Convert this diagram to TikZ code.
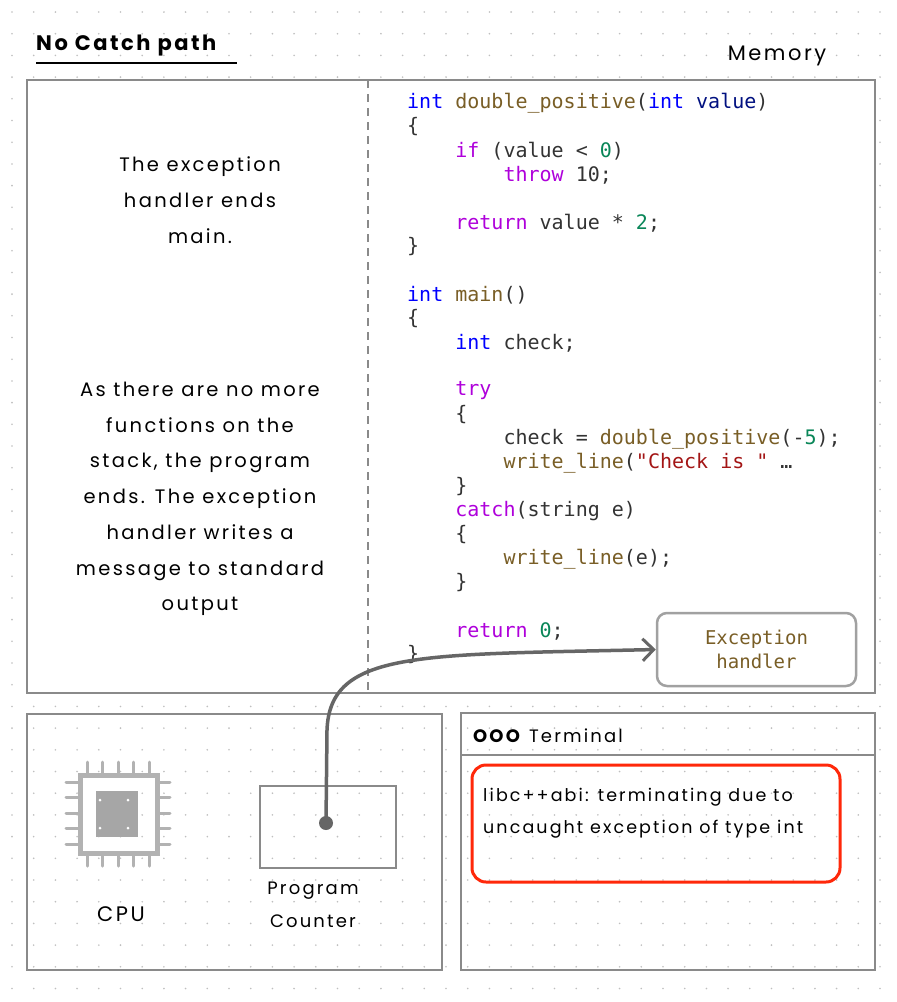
\documentclass[tikz,border=0pt]{standalone}
\usepackage{fontspec}
\setmainfont{Poppins}[LetterSpace=12]
\newfontfamily\codefont{DejaVu Sans Mono}
\usetikzlibrary{arrows.meta}
\definecolor{kwb}{HTML}{0000FF}
\definecolor{fnb}{HTML}{795E26}
\definecolor{ctl}{HTML}{AF00DB}
\definecolor{num}{HTML}{098658}
\definecolor{str}{HTML}{A31515}
\definecolor{idn}{HTML}{001080}
\definecolor{pln}{HTML}{333333}
\definecolor{frame}{HTML}{8A8A8A}
\tikzset{
  panel/.style={draw=frame,line width=2pt},
  code/.style={anchor=west,inner sep=0pt,font=\codefont\fontsize{20}{24}\selectfont,text=pln},
  label/.style={align=center,inner sep=0pt,font=\fontsize{19.5}{35.7}\selectfont},
}
\newcommand{\K}[1]{\textcolor{kwb}{#1}}
\newcommand{\F}[1]{\textcolor{fnb}{#1}}
\newcommand{\C}[1]{\textcolor{ctl}{#1}}
\newcommand{\N}[1]{\textcolor{num}{#1}}
\newcommand{\Sx}[1]{\textcolor{str}{#1}}
\newcommand{\I}[1]{\textcolor{idn}{#1}}
\begin{document}
\begin{tikzpicture}[x=1pt,y=-1pt]
\useasboundingbox (0,0) rectangle (897,1002);
\fill[white] (0,0) rectangle (897,1002);
\foreach \i in {0,...,40}{\foreach \j in {0,...,45}{
  \fill[black!25] (12+21.7*\i,12+21.7*\j) circle (0.9);}}
% title
\node[anchor=west,inner sep=0pt,font=\bfseries\fontsize{21}{24}\selectfont] (title) at (36,46) {No Catch path};
\draw[line width=1.5pt] (36,63) -- (237,63);
\node[inner sep=0pt,font=\fontsize{21}{24}\selectfont] (mem) at (777,56) {Memory};
% memory panel
\draw[panel,fill=white] (27,80) rectangle (875,693);
\draw[frame,line width=1.6pt,dash pattern=on 8pt off 6pt] (368,80) -- (368,693);
\node[label] (t1) at (200,200) {The exception\\handler ends\\main.};
\node[label] (t2) at (200,499) {As there are no more\\functions on the\\stack, the program\\ends. The exception\\handler writes a\\message to standard\\output};
% code
\foreach \y/\t in {
103/{\K{int} \F{double\_positive}(\K{int} \I{value})},
127/{\{},
151/{\ \ \ \ \C{if} (value < \N{0})},
175/{\ \ \ \ \ \ \ \ \C{throw} 10;},
223/{\ \ \ \ \C{return} value * \N{2};},
247/{\}},
295/{\K{int} \F{main}()},
319/{\{},
343/{\ \ \ \ \K{int} check;},
391/{\ \ \ \ \C{try}},
415/{\ \ \ \ \{},
439/{\ \ \ \ \ \ \ \ check = \F{double\_positive}(-\N{5});},
463/{\ \ \ \ \ \ \ \ \F{write\_line}(\Sx{"Check is "} …},
487/{\ \ \ \ \}},
511/{\ \ \ \ \C{catch}(string e)},
535/{\ \ \ \ \{},
559/{\ \ \ \ \ \ \ \ \F{write\_line}(e);},
583/{\ \ \ \ \}},
631/{\ \ \ \ \C{return} \N{0};},
655/{\}}}{
  \node[code] at (407,\y) {\t};}
% exception handler
\node[draw=frame!80,line width=2.5pt,rounded corners=10pt,minimum width=199pt,minimum height=73pt,fill=white,align=center,text=fnb,font=\codefont\fontsize{19}{24}\selectfont] (eh) at (756.5,649.5) {Exception\\handler};
% CPU panel
\draw[panel] (27,714) rectangle (442,970);
\node[draw=frame,line width=2pt,minimum width=136pt,minimum height=82pt,inner sep=0pt] (pc) at (328,827) {};
\node[label,font=\fontsize{18}{33}\selectfont,align=center] (pcl) at (313,905) {Program\\Counter};
\node[label,font=\fontsize{21}{24}\selectfont] (cpul) at (121,914) {CPU};
% CPU icon
\draw[black!30,line width=5pt] (80,775) rectangle (157,853);
\fill[black!35] (96,791) rectangle (138,837);
\foreach \p in {0,...,4}{
  \draw[black!30,line width=3pt,line cap=round] (87+15.5*\p,775) -- (87+15.5*\p,762);
  \draw[black!30,line width=3pt,line cap=round] (87+15.5*\p,853) -- (87+15.5*\p,866);
  \draw[black!30,line width=3pt,line cap=round] (80,782+15.5*\p) -- (66,782+15.5*\p);
  \draw[black!30,line width=3pt,line cap=round] (157,782+15.5*\p) -- (170,782+15.5*\p);}
\foreach \a/\b in {100/800,128/800,100/828,128/828}{\fill[white] (\a,\b) circle (1.5);}
% terminal
\draw[panel] (461,713) rectangle (875,970);
\draw[frame,line width=2pt] (461,755) -- (875,755);
\node[anchor=west,inner sep=0pt,font=\fontsize{18}{24}\selectfont] (term) at (473,736) {\textbf{OOO} Terminal};
\node[draw={rgb,255:red,255;green,40;blue,10},line width=3pt,rounded corners=14pt,minimum width=368pt,minimum height=117pt] (out) at (656,823.5) {};
\node[anchor=north west,inner sep=0pt,align=left,font=\fontsize{17.5}{32}\selectfont] (outt) at (483,788) {libc++abi: terminating due to\\uncaught exception of type int};
% arrow
\coordinate (pcdot) at (326,823);
\fill[black!60] (pcdot) circle (7);
\draw[black!60,line width=3.5pt,-{Straight Barb[length=11pt,width=22pt,line width=3pt]}] (pcdot) -- (327,730) .. controls (330,650) and (420,655) .. (eh.west);
\end{tikzpicture}
\end{document}
